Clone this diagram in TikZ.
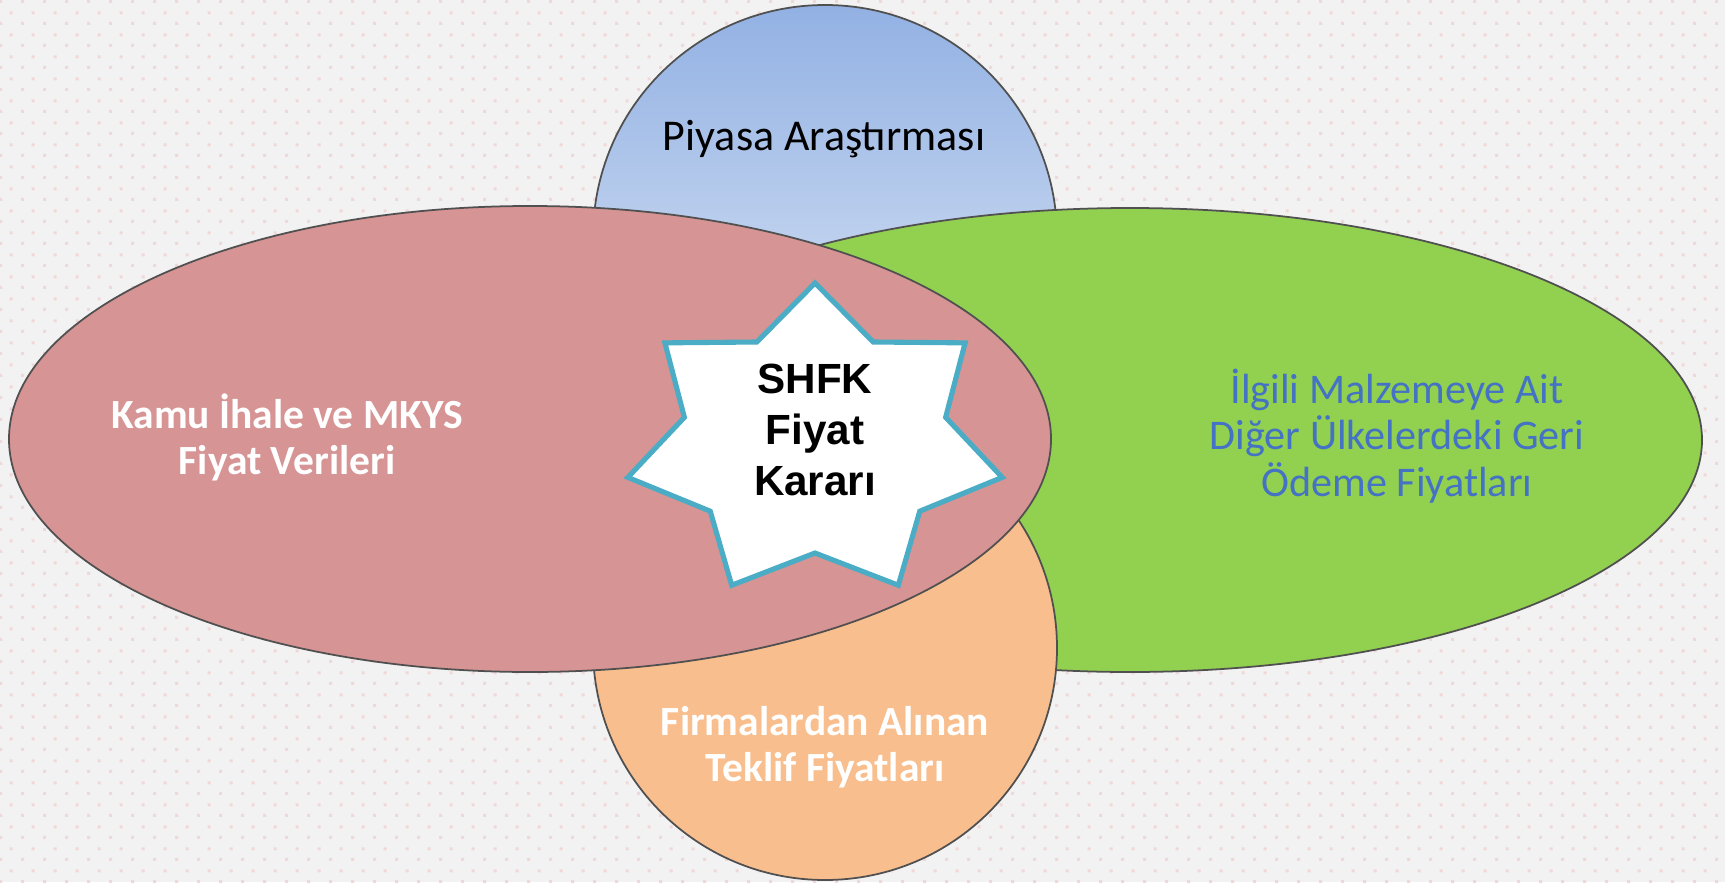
\documentclass[tikz,border=0pt]{standalone}
\usepackage{fontspec}
\setmainfont{Carlito}
\newfontfamily\arialfont{Liberation Sans}
\usetikzlibrary{patterns}

\definecolor{zemin}{HTML}{F2F2F2}
\definecolor{nokta}{HTML}{F1D8D8}
\definecolor{kirmizi}{HTML}{D69494}
\definecolor{yesil}{HTML}{92D050}
\definecolor{seftali}{HTML}{F8BE8E}
\definecolor{maviust}{HTML}{92B1E3}
\definecolor{mavialt}{HTML}{E6EDF8}
\definecolor{yildizmavi}{HTML}{4BACC6}
\definecolor{yazimavi}{HTML}{4472C4}
\definecolor{kenar}{HTML}{505050}

% zemin noktalari
\pgfdeclarepatternformonly{noktalar}{\pgfpointorigin}{\pgfpoint{6.26pt}{6.26pt}}{\pgfpoint{6.26pt}{6.26pt}}{%
  \pgfpathrectangle{\pgfpoint{0pt}{0pt}}{\pgfpoint{0.9pt}{0.9pt}}%
  \pgfpathrectangle{\pgfpoint{3.13pt}{3.13pt}}{\pgfpoint{0.9pt}{0.9pt}}%
  \pgfusepath{fill}}

\tikzset{
  kume/.style={draw=kenar, line width=0.5pt},
  yildizcizgi/.style={draw=yildizmavi, fill=white, line width=1.45pt, line join=miter},
  beyazyazi/.style={text=white, align=center, font=\bfseries\fontsize{11.8}{13.1}\selectfont},
}

\begin{document}
\begin{tikzpicture}[x=0.01cm, y=-0.01cm]
	% Zemin
	\fill[zemin] (0,0) rectangle (1725,882);
	\fill[pattern=noktalar, pattern color=nokta] (0,0) rectangle (1725,882);
	\useasboundingbox (0,0) rectangle (1725,882);
	
	% Kumeler
	\shade[kume, top color=maviust, bottom color=mavialt] (825,237) circle [radius=232];
	\fill[kume, fill=yesil] (1130,440) ellipse [x radius=572, y radius=232];
	\fill[kume, fill=seftali] (825,648) circle [radius=232];
	\fill[kume, fill=kirmizi] (530,439) ellipse [x radius=521, y radius=233];
	
	% Yildiz
	\coordinate (ym) at (815,442);
	\foreach \k in {0,...,7}{
		\pgfmathsetmacro\ad{-90+\k*360/7}
		\pgfmathsetmacro\ai{-90+(\k-0.5)*360/7}
		\path (ym) ++ (\ad:192 and 159) coordinate (o\k);
		\path (ym) ++ (\ai:134 and 111) coordinate (i\k);
	}
	\path[yildizcizgi] (o0) \foreach \k in {1,...,7}{ -- (i\k) -- (o\k) } -- cycle;
	
	% Yazilar
	\node[font=\fontsize{12.5}{15}\selectfont] (piyasa) at (824,139) {Piyasa Araştırması};
	\node[beyazyazi] (kamu) at (287,437) {Kamu İhale ve MKYS\\Fiyat Verileri};
	\node[text=yazimavi, align=center, font=\fontsize{12}{13.2}\selectfont] (ulke) at (1397,436) {İlgili Malzemeye Ait\\Diğer Ülkelerdeki Geri\\Ödeme Fiyatları};
	\node[beyazyazi] (firma) at (825,747) {Firmalardan Alınan\\Teklif Fiyatları};
	\node[align=center, font=\arialfont\bfseries\fontsize{12}{14.4}\selectfont] (karar) at (815,430) {SHFK\\Fiyat\\Kararı};
\end{tikzpicture}
\end{document}
